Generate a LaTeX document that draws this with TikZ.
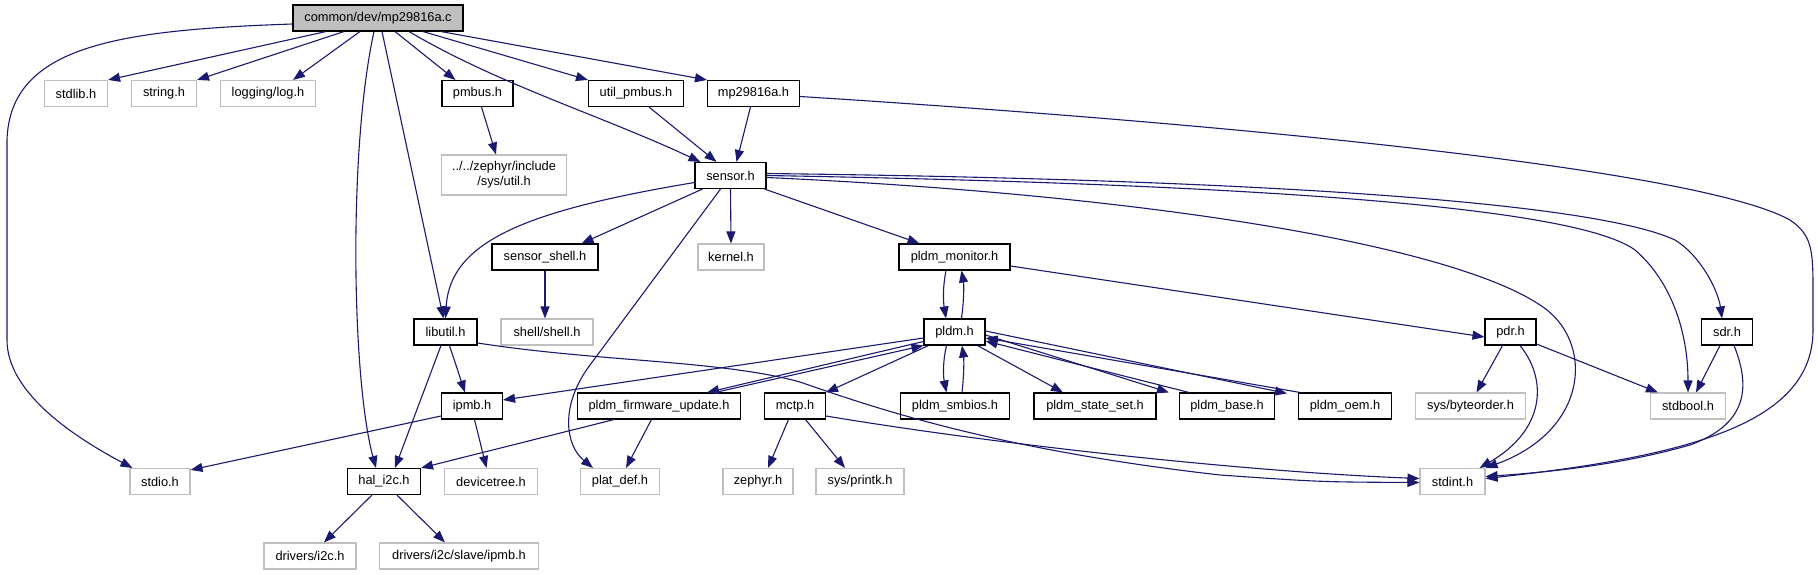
\documentclass[tikz,border=0pt]{standalone}
\usepackage{fontspec}
\usepackage{tikz}
\usetikzlibrary{arrows.meta}
\newfontfamily\graphfont{Liberation Sans}
\definecolor{edgeblue}{HTML}{191970}
\definecolor{grey75}{HTML}{BFBFBF}

\begin{document}
\begin{tikzpicture}[x=1pt,y=-1pt,
    file/.style={draw=black,line width=1.1pt,fill=white,minimum height=26pt,inner sep=0pt,
      font=\graphfont\fontsize{12.8}{15}\selectfont},
    sysfile/.style={file,draw=grey75},
    rootfile/.style={file,fill=grey75},
    dep/.style={edgeblue,line width=1.1pt,-{Triangle[length=12pt,width=9pt]}}]
    \useasboundingbox (0,0) rectangle (1818,575);
    \node[rootfile,minimum width=170pt] (root) at (378,18) {common/dev/mp29816a.c};
    \node[sysfile,minimum width=63pt] (stdlib) at (76,93.5) {stdlib.h};
    \node[sysfile,minimum width=65pt] (string) at (164,93.5) {string.h};
    \node[sysfile,minimum width=95pt] (log) at (268,93.5) {logging/log.h};
    \node[file,minimum width=71pt] (pmbus) at (477.5,93.5) {pmbus.h};
    \node[file,minimum width=95pt] (utilpmbus) at (636,93.5) {util\_pmbus.h};
    \node[file,minimum width=92pt] (mpheader) at (753.5,93.5) {mp29816a.h};
    \node[sysfile,minimum width=125pt,minimum height=40pt,align=center] (utilh) at (504,175) {../../zephyr/include\\/sys/util.h};
    \node[file,minimum width=71pt] (sensor) at (730.5,175.5) {sensor.h};
    \node[file,minimum width=106pt] (sensorshell) at (545,257) {sensor\_shell.h};
    \node[sysfile,minimum width=66pt] (kernel) at (731,257) {kernel.h};
    \node[file,minimum width=111pt] (pldmmonitor) at (954.5,257) {pldm\_monitor.h};
    \node[file,minimum width=63pt] (libutil) at (445.5,332) {libutil.h};
    \node[sysfile,minimum width=92pt] (shell) at (547,332) {shell/shell.h};
    \node[file,minimum width=61pt] (pldm) at (954.5,332) {pldm.h};
    \node[file,minimum width=51pt] (pdr) at (1510.5,332) {pdr.h};
    \node[file,minimum width=51pt] (sdr) at (1727,332) {sdr.h};
    \node[file,minimum width=61pt] (ipmb) at (472,406) {ipmb.h};
    \node[file,minimum width=163pt] (fwupdate) at (659,406) {pldm\_firmware\_update.h};
    \node[file,minimum width=61pt] (mctp) at (795,406) {mctp.h};
    \node[file,minimum width=109pt] (smbios) at (955,406) {pldm\_smbios.h};
    \node[file,minimum width=122pt] (stateset) at (1095,406) {pldm\_state\_set.h};
    \node[file,minimum width=95pt] (pldmbase) at (1227,406) {pldm\_base.h};
    \node[file,minimum width=93pt] (pldmoem) at (1345,406) {pldm\_oem.h};
    \node[sysfile,minimum width=110pt] (byteorder) at (1470.5,406) {sys/byteorder.h};
    \node[sysfile,minimum width=75pt] (stdbool) at (1688,406) {stdbool.h};
    \node[sysfile,minimum width=60pt] (stdio) at (160,481.5) {stdio.h};
    \node[file,minimum width=73pt] (hali2c) at (384,481.5) {hal\_i2c.h};
    \node[sysfile,minimum width=93pt] (devicetree) at (491,481.5) {devicetree.h};
    \node[sysfile,minimum width=79pt] (platdef) at (620,481.5) {plat\_def.h};
    \node[sysfile,minimum width=70pt] (zephyr) at (758,481.5) {zephyr.h};
    \node[sysfile,minimum width=88pt] (printk) at (860,481.5) {sys/printk.h};
    \node[sysfile,minimum width=65pt] (stdint) at (1452.5,481.5) {stdint.h};
    \node[sysfile,minimum width=92pt] (drvi2c) at (310,556) {drivers/i2c.h};
    \node[sysfile,minimum width=159pt] (drvipmb) at (459,556) {drivers/i2c/slave/ipmb.h};
    \draw[dep] ([yshift=-6pt]root.west) .. controls (120,30) and (10,45) .. (7,140) -- (7,340)
      .. controls (7,395) and (80,440) .. ([xshift=3pt]stdio.north west);
    \draw[dep] ([xshift=-52pt]root.south) -- (stdlib.north east);
    \draw[dep] ([xshift=-34pt]root.south) -- (string.north east);
    \draw[dep] ([xshift=-18pt]root.south) -- ([xshift=25pt]log.north);
    \draw[dep] ([xshift=-4pt]root.south) .. controls (348,150) and (352,380) .. ([xshift=-8pt]hali2c.north);
    \draw[dep] ([xshift=4pt]root.south) -- ([xshift=-2pt]libutil.north);
    \draw[dep] ([xshift=17pt]root.south) -- ([xshift=-22pt]pmbus.north);
    \draw[dep] ([xshift=31pt]root.south) .. controls (500,85) and (600,115) .. ([xshift=-30pt]sensor.north);
    \draw[dep] ([xshift=45pt]root.south) -- (utilpmbus.north west);
    \draw[dep] ([xshift=63pt]root.south) -- (mpheader.north west);
    \draw[dep] ([xshift=-3pt]mpheader.south) -- ([xshift=6pt]sensor.north);
    \draw[dep] ([yshift=-3pt]mpheader.east) .. controls (1250,125) and (1700,170) .. (1790,220)
      .. controls (1812,235) and (1813,250) .. (1813,290) -- (1813,330)
      .. controls (1813,420) and (1700,455) .. ([yshift=3pt]stdint.east);
    \draw[dep] ([xshift=4pt]pmbus.south) -- ([xshift=-8pt]utilh.north);
    \draw[dep] ([xshift=13pt]utilpmbus.south) -- ([xshift=-14pt]sensor.north);
    \draw[dep] ([yshift=-7pt]sensor.west) .. controls (530,210) and (450,240) .. (libutil.north);
    \draw[dep] ([xshift=-28pt]sensor.south) -- ([xshift=-17pt]sensorshell.north east);
    \draw[dep] ([xshift=-10pt]sensor.south) -- (590,365) .. controls (560,405) and (565,445) .. ([xshift=-27pt]platdef.north);
    \draw[dep] (sensor.south) -- (kernel.north);
    \draw[dep] ([xshift=34pt]sensor.south) -- ([xshift=-35pt]pldmmonitor.north);
    \draw[dep] ([yshift=-2pt]sensor.east) .. controls (1150,195) and (1450,245) .. (1540,305)
      .. controls (1595,340) and (1590,430) .. (stdint.north east);
    \draw[dep] ([yshift=2pt]sensor.east) .. controls (1300,180) and (1600,205) .. (1675,240)
      .. controls (1700,255) and (1718,290) .. ([xshift=-5pt]sdr.north);
    \draw[dep] (sensor.east) .. controls (1300,185) and (1580,210) .. (1635,250)
      .. controls (1670,280) and (1688,330) .. (stdbool.north);
    \draw[dep] (sensorshell.south) -- (sensorshell.south |- shell.north);
    \draw[dep] ([xshift=-8.5pt]pldmmonitor.south) .. controls (943,285) and (943,300) .. ([xshift=-8.5pt]pldm.north);
    \draw[dep] ([xshift=7pt]pldm.north) .. controls (964,300) and (964,285) .. ([xshift=7pt]pldmmonitor.south);
    \draw[dep] ([yshift=-9pt]pldmmonitor.east) -- ([yshift=-5pt]pdr.west);
    \draw[dep] ([yshift=-6pt]pldm.west) -- ([yshift=6pt]ipmb.east);
    \draw[dep] ([yshift=-9.5pt]pldm.west) -- ([xshift=-34pt]fwupdate.north east);
    \draw[dep] ([xshift=-26pt]fwupdate.north east) -- (pldm.south west);
    \draw[dep] ([xshift=-26pt]pldm.south) -- (mctp.north east);
    \draw[dep] ([xshift=-8pt]pldm.south) .. controls (943,360) and (943,375) .. ([xshift=-8.5pt]smbios.north);
    \draw[dep] ([xshift=7pt]smbios.north) .. controls (964,375) and (964,360) .. ([xshift=7.5pt]pldm.south);
    \draw[dep] ([xshift=23pt]pldm.south) -- ([xshift=-32pt]stateset.north);
    \draw[dep] ([yshift=-3pt]pldm.east) -- ([xshift=-10pt]pldmbase.north west);
    \draw[dep] ([xshift=10pt]pldmbase.north west) -- ([yshift=-9pt]pldm.east);
    \draw[dep] ([yshift=1pt]pldm.east) -- ([xshift=-11pt,yshift=-1pt]pldmoem.north west);
    \draw[dep] ([xshift=2pt]pldmoem.north west) -- ([yshift=-6pt]pldm.east);
    \draw[dep] ([xshift=4pt]libutil.south) -- ([xshift=-7pt]ipmb.north);
    \draw[dep] ([xshift=-4.5pt]libutil.south) -- ([xshift=11pt]hali2c.north);
    \draw[dep] ([yshift=-11pt]libutil.east) .. controls (600,362) and (720,360) .. (800,382)
      .. controls (880,410) and (1000,450) .. (1220,475) .. controls (1320,482) .. ([yshift=-1pt]stdint.west);
    \draw[dep] ([xshift=-6.5pt]mctp.south) -- ([xshift=10pt]zephyr.north);
    \draw[dep] ([xshift=10.5pt]mctp.south) -- ([xshift=-15pt]printk.north);
    \draw[dep] ([yshift=-10pt]mctp.east) .. controls (1000,445) and (1250,472) .. ([yshift=3pt]stdint.west);
    \draw[dep] ([yshift=-10pt]ipmb.west) -- ([yshift=-2pt]stdio.north east);
    \draw[dep] ([xshift=2.5pt]ipmb.south) -- ([xshift=-4.5pt]devicetree.north);
    \draw[dep] ([xshift=-45pt]fwupdate.south) -- (hali2c.north east);
    \draw[dep] ([xshift=-7.5pt]fwupdate.south) -- ([xshift=6pt]platdef.north);
    \draw[dep] ([xshift=-8pt]pdr.south) -- ([xshift=6pt]byteorder.north);
    \draw[dep] ([xshift=9.5pt]pdr.south) .. controls (1548,380) and (1545,430) .. ([xshift=-6pt]stdint.north east);
    \draw[dep] ([yshift=-12pt]pdr.east) -- ([xshift=8pt]stdbool.north west);
    \draw[dep] ([xshift=-7pt]sdr.south) -- ([xshift=8pt]stdbool.north);
    \draw[dep] ([xshift=7pt]sdr.south) .. controls (1752,390) and (1745,425) .. (1690,445)
      .. controls (1620,465) and (1550,472) .. ([yshift=5pt]stdint.east);
    \draw[dep] ([xshift=-12pt]hali2c.south) -- ([xshift=14pt]drvi2c.north);
    \draw[dep] ([xshift=13pt]hali2c.south) -- ([xshift=-14pt]drvipmb.north);
  \end{tikzpicture}
\end{document}
